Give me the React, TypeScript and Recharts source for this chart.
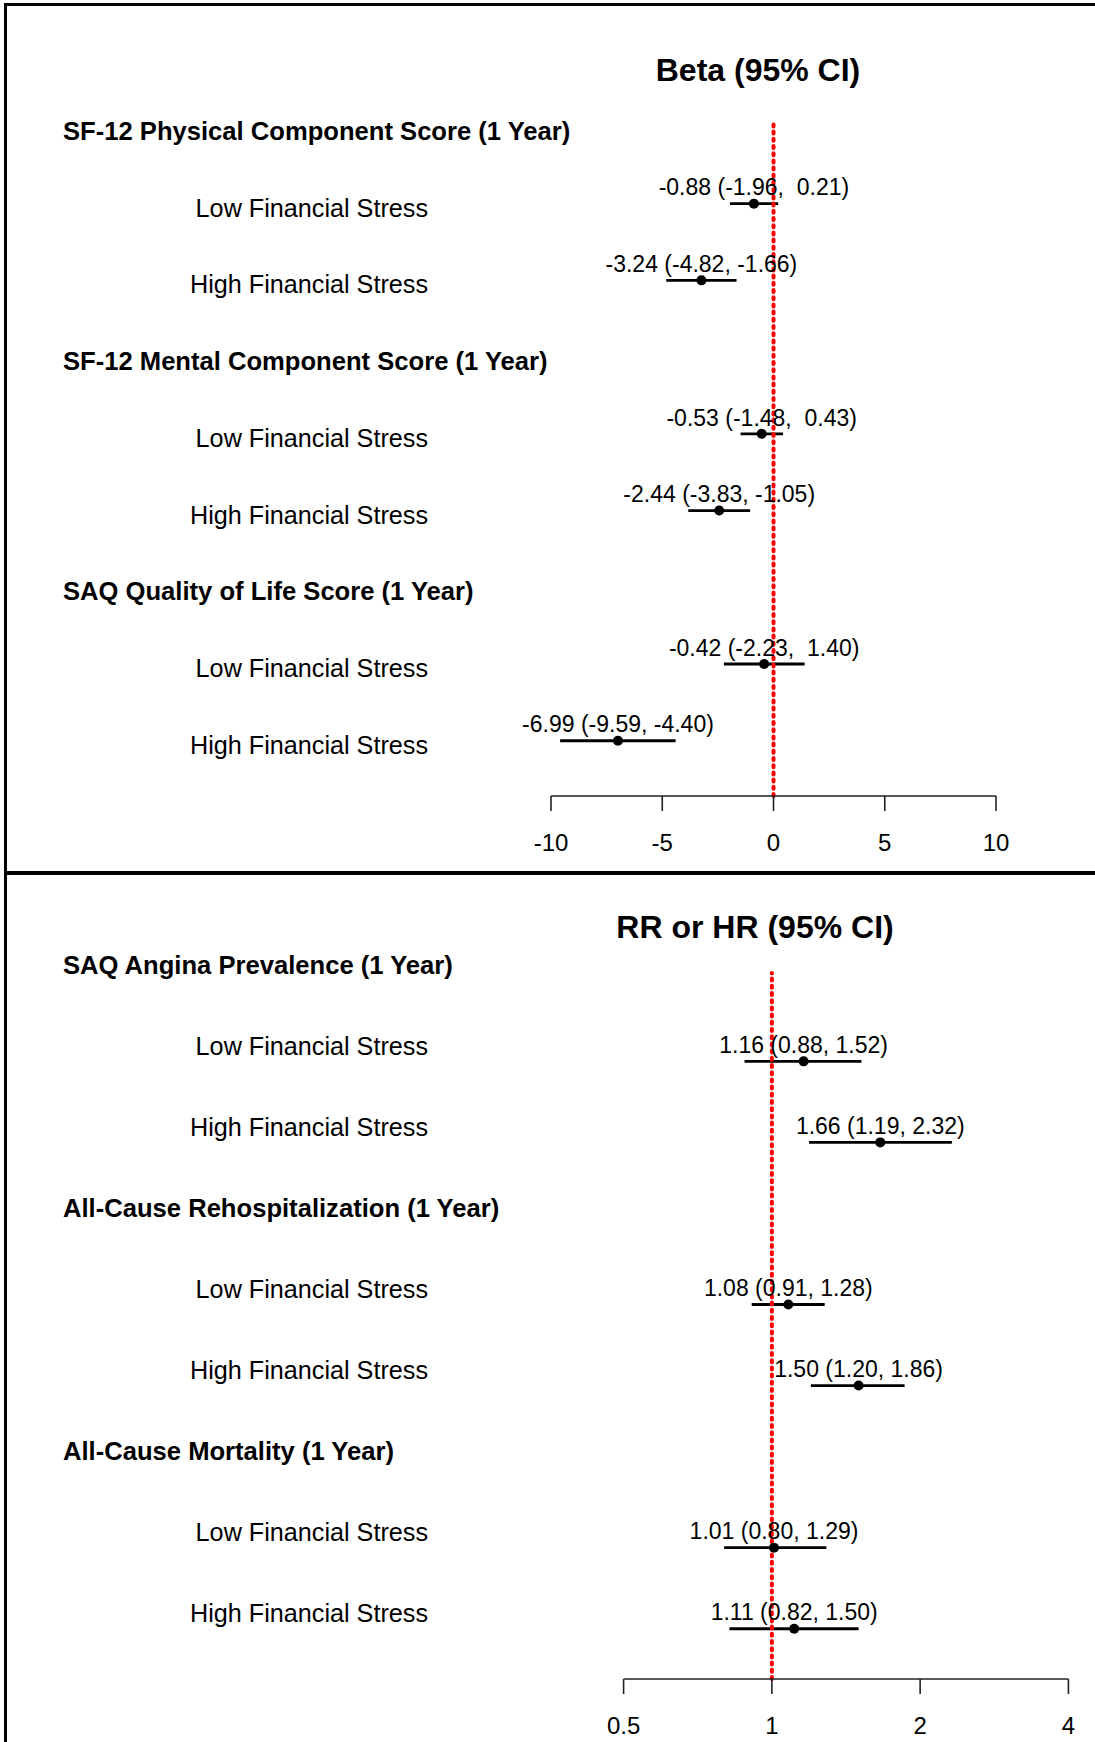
import React from 'react';
import { ScatterChart, Scatter, XAxis, YAxis, ErrorBar, ReferenceLine } from 'recharts';

const FONT = '"Liberation Sans", Arial, Helvetica, sans-serif';

// outcome headings per panel
const betaOutcomes = [
  'SF-12 Physical Component Score (1 Year)',
  'SF-12 Mental Component Score (1 Year)',
  'SAQ Quality of Life Score (1 Year)',
];
const ratioOutcomes = [
  'SAQ Angina Prevalence (1 Year)',
  'All-Cause Rehospitalization (1 Year)',
  'All-Cause Mortality (1 Year)',
];
const groups = ['Low Financial Stress', 'High Financial Stress'];

// estimates, in outcome order, low then high stress
const betaEst = [-0.88, -3.24, -0.53, -2.44, -0.42, -6.99];
const betaLo = [-1.96, -4.82, -1.48, -3.83, -2.23, -9.59];
const betaHi = [0.21, -1.66, 0.43, -1.05, 1.4, -4.4];

const ratioEst = [1.16, 1.66, 1.08, 1.5, 1.01, 1.11];
const ratioLo = [0.88, 1.19, 0.91, 1.2, 0.8, 0.82];
const ratioHi = [1.52, 2.32, 1.28, 1.86, 1.29, 1.5];

const betaTicks = [-10, -5, 0, 5, 10];
const ratioTicks = [0.5, 1, 2, 4];

type Pt = { row: number; est: number; lo: number; hi: number; err: [number, number] };

function buildPoints(est: number[], lo: number[], hi: number[]): Pt[] {
  return est.map((e, i) => ({
    row: Math.floor(i / 2) * 3 + 1 + (i % 2),
    est: e,
    lo: lo[i],
    hi: hi[i],
    err: [e - lo[i], hi[i] - e],
  }));
}

function buildLabels(outcomes: string[]): string[] {
  const out: string[] = [];
  outcomes.forEach((o) => {
    out.push(o);
    groups.forEach((g) => out.push(g));
  });
  return out;
}

function makeFmt(values: number[]) {
  const w = Math.max(...values.map((v) => v.toFixed(2).length));
  const f = (v: number) => v.toFixed(2).padStart(w);
  return (p: Pt) => `${f(p.est)} (${f(p.lo)}, ${f(p.hi)})`;
}

interface PanelProps {
  title: string;
  titleX: number;
  titleY: number;
  top: number;
  height: number;
  plotTop: number;
  plotRight: number;
  axisHeight: number;
  yAxisWidth: number;
  yDomain: [number, number];
  xDomain: [number, number];
  xTicks: number[];
  log?: boolean;
  refX: number;
  points: Pt[];
  labels: string[];
  labelShift: number;
  fmt: (p: Pt) => string;
}

function ForestPanel(p: PanelProps) {
  const rowTicks = p.labels.map((_, i) => i);

  const LabelTick = (props: any) => {
    const i = props.payload.value as number;
    const heading = i % 3 === 0;
    const fs = heading ? 25.6 : 25.2;
    return (
      <text
        x={heading ? 63 : 428}
        y={props.y + p.labelShift + 9}
        textAnchor={heading ? 'start' : 'end'}
        fontSize={fs}
        fontWeight={heading ? 'bold' : 'normal'}
        fontFamily={FONT}
        fill="#000"
      >
        {p.labels[i]}
      </text>
    );
  };

  const PointShape = (props: any) => {
    const { cx, cy, payload } = props;
    return (
      <g>
        <circle cx={cx} cy={cy} r={5} fill="#000" />
        <text
          x={cx}
          y={cy - 8.3}
          textAnchor="middle"
          fontSize={23}
          fontFamily={FONT}
          fill="#000"
          xmlSpace="preserve"
          style={{ whiteSpace: 'pre' }}
        >
          {p.fmt(payload)}
        </text>
      </g>
    );
  };

  return (
    <div style={{ position: 'absolute', left: 0, top: p.top, width: 1095, height: p.height }}>
      <ScatterChart
        width={1095}
        height={p.height}
        margin={{ top: p.plotTop, right: p.plotRight, bottom: 0, left: 0 }}
        style={{ fontFamily: FONT }}
      >
        <XAxis
          type="number"
          dataKey="est"
          domain={p.xDomain}
          ticks={p.xTicks}
          scale={p.log ? 'log' : 'linear'}
          interval={0}
          height={p.axisHeight}
          tickSize={15}
          tickMargin={23}
          axisLine={{ stroke: '#222', strokeWidth: 1.6 }}
          tickLine={{ stroke: '#222', strokeWidth: 1.6 }}
          tick={{ fill: '#000', fontSize: 24, fontFamily: FONT }}
        />
        <YAxis
          type="number"
          dataKey="row"
          domain={p.yDomain}
          reversed
          ticks={rowTicks}
          interval={0}
          width={p.yAxisWidth}
          axisLine={false}
          tickLine={false}
          tick={<LabelTick />}
        />
        <Scatter data={p.points} shape={<PointShape />} isAnimationActive={false}>
          <ErrorBar
            dataKey="err"
            direction="x"
            width={0}
            stroke="#000"
            strokeWidth={2.8}
            isAnimationActive={false}
          />
        </Scatter>
        <ReferenceLine
          x={p.refX}
          stroke="#f00"
          strokeWidth={4}
          strokeDasharray="2 5.2"
          strokeLinecap="round"
        />
      </ScatterChart>
      <div
        style={{
          position: 'absolute',
          left: p.titleX,
          top: p.titleY,
          transform: 'translate(-50%, -50%)',
          whiteSpace: 'nowrap',
          fontFamily: FONT,
          fontWeight: 'bold',
          fontSize: 32,
          lineHeight: 1,
          color: '#000',
        }}
      >
        {p.title}
      </div>
    </div>
  );
}

const betaPoints = buildPoints(betaEst, betaLo, betaHi);
const ratioPoints = buildPoints(ratioEst, ratioLo, ratioHi);

export default function App() {
  return (
    <div
      style={{
        position: 'absolute',
        left: 0,
        top: 0,
        width: 1095,
        height: 1742,
        overflow: 'hidden',
        background: '#fff',
      }}
    >
      <ForestPanel
        title="Beta (95% CI)"
        titleX={758}
        titleY={70}
        top={0}
        height={873}
        plotTop={120}
        plotRight={99}
        axisHeight={77}
        yAxisWidth={551}
        yDomain={[-0.09, 8.72]}
        xDomain={[-10, 10]}
        xTicks={betaTicks}
        refX={0}
        points={betaPoints}
        labels={buildLabels(betaOutcomes)}
        labelShift={4}
        fmt={makeFmt([...betaEst, ...betaLo, ...betaHi])}
      />
      <ForestPanel
        title="RR or HR (95% CI)"
        titleX={755}
        titleY={54}
        top={873}
        height={869}
        plotTop={100}
        plotRight={26.6}
        axisHeight={63}
        yAxisWidth={623.6}
        yDomain={[-0.09, 8.62]}
        xDomain={[0.5, 4]}
        xTicks={ratioTicks}
        log
        refX={1}
        points={ratioPoints}
        labels={buildLabels(ratioOutcomes)}
        labelShift={-15.7}
        fmt={makeFmt([...ratioEst, ...ratioLo, ...ratioHi])}
      />
      {/* frame lines */}
      <div style={{ position: 'absolute', left: 4, top: 3, width: 1100, height: 3, background: '#000' }} />
      <div style={{ position: 'absolute', left: 4, top: 3, width: 3, height: 1750, background: '#000' }} />
      <div style={{ position: 'absolute', left: 4, top: 871, width: 1100, height: 4, background: '#000' }} />
    </div>
  );
}
